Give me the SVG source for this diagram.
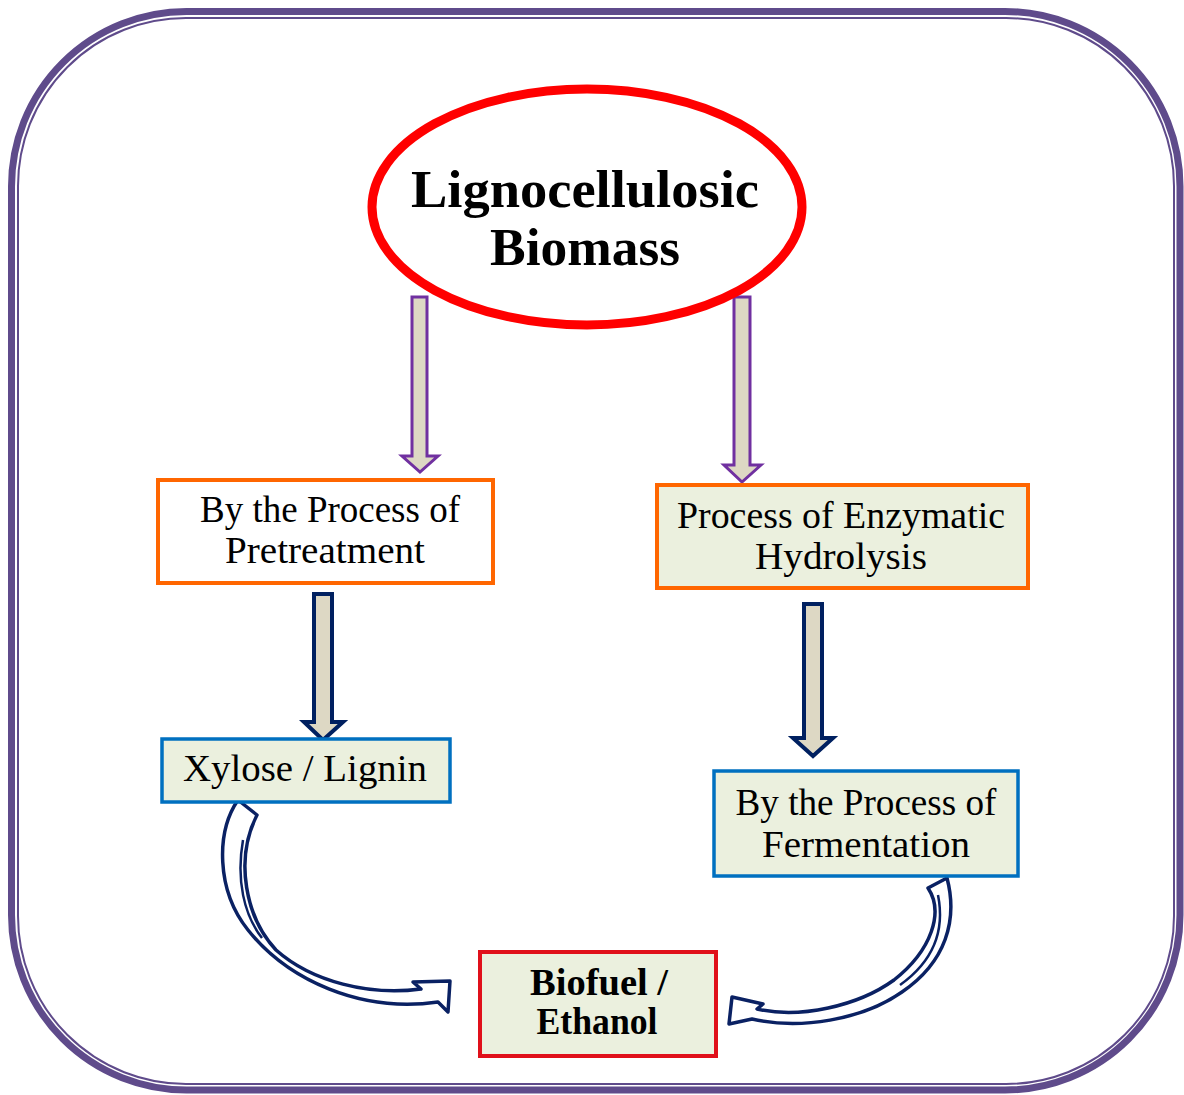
<svg xmlns="http://www.w3.org/2000/svg" width="1184" height="1095" viewBox="0 0 1184 1095">
  <style>
    .frame { fill: none; stroke: #5f4b8b; }
    .txt { font-family: "Liberation Serif", "Times New Roman", serif; fill: #000; text-anchor: middle; }
    .reg { font-size: 37px; }
    .bold { font-weight: bold; }
    .title { font-size: 52px; font-weight: bold; }
    .box-orange { stroke: #ff6600; stroke-width: 4; }
    .box-blue { stroke: #0070c0; stroke-width: 3.5; }
    .box-red { stroke: #e0101a; stroke-width: 4; }
    .fill-white { fill: #ffffff; }
    .fill-green { fill: #ebf0de; }
    .arrow-purple { fill: #ddd8c4; stroke: #7030a0; stroke-width: 3; stroke-linejoin: miter; }
    .arrow-navy { fill: #ddd8c4; stroke: #002060; stroke-width: 4; stroke-linejoin: miter; }
    .curve-navy { fill: #ffffff; stroke: #0a2163; stroke-width: 3.5; stroke-linejoin: round; }
  </style>

  <!-- outer double frame -->
  <rect class="frame" x="11.5" y="11.5" width="1168.5" height="1078.5" rx="175" ry="175" stroke-width="7"/>
  <rect class="frame" x="18" y="18" width="1156" height="1066" rx="168" ry="168" stroke-width="2"/>

  <!-- connectors -->
  <g id="connectors">
    <!-- biomass to pretreatment -->
    <path class="arrow-purple" d="M412,297 H427 V456 H438 L420,472 L402,456 H412 Z"/>
    <!-- biomass to enzymatic hydrolysis -->
    <path class="arrow-purple" d="M734,297 H750 V465 H761 L742,482 L724,465 H734 Z"/>
    <!-- pretreatment to xylose / lignin -->
    <path class="arrow-navy" d="M314,594 H332 V722 H343 L323,740 L304,722 H314 Z"/>
    <!-- enzymatic hydrolysis to fermentation -->
    <path class="arrow-navy" d="M804,604 H822 V738 H833 L813,756 L793,738 H804 Z"/>
    <!-- xylose / lignin to biofuel -->
    <path class="curve-navy" d="M238,800 C216,832 216,890 248,930 C288,980 360,1013 438,1002 L448,1012 L450,981 L413,982 L421,989 C370,996 312,982 276,950 C246,918 234,860 257,815 Z"/>
    <path fill="none" stroke="#0a2163" stroke-width="2.5" d="M243,840 C236,880 244,915 262,938"/>
    <!-- fermentation to biofuel -->
    <path class="curve-navy" d="M947,878 C958,920 946,962 902,992 C862,1020 800,1030 752,1019 L729,1024 L732,997 L763,1004 L757,1009 C800,1019 858,1006 894,980 C932,950 944,912 928,888 Z"/>
    <path fill="none" stroke="#0a2163" stroke-width="2.5" d="M938,895 C945,930 935,960 900,985"/>
  </g>

  <!-- source node -->
  <g id="node-biomass">
    <ellipse cx="587" cy="207" rx="215" ry="118" fill="#ffffff" stroke="#ff0000" stroke-width="9"/>
    <text class="txt title" x="585" y="207" textLength="348" lengthAdjust="spacingAndGlyphs">Lignocellulosic</text>
    <text class="txt title" x="585" y="265" textLength="190" lengthAdjust="spacingAndGlyphs">Biomass</text>
  </g>

  <g id="node-pretreatment">
    <rect class="box-orange fill-white" x="158" y="480" width="335" height="103"/>
    <text class="txt reg" x="330" y="522" textLength="260" lengthAdjust="spacingAndGlyphs">By the Process of</text>
    <text class="txt reg" x="325" y="563" textLength="200" lengthAdjust="spacingAndGlyphs">Pretreatment</text>
  </g>

  <g id="node-hydrolysis">
    <rect class="box-orange fill-green" x="657" y="485" width="371" height="103"/>
    <text class="txt reg" x="841" y="528" textLength="328" lengthAdjust="spacingAndGlyphs">Process of Enzymatic</text>
    <text class="txt reg" x="841" y="569" textLength="172" lengthAdjust="spacingAndGlyphs">Hydrolysis</text>
  </g>

  <g id="node-xylose">
    <rect class="box-blue fill-green" x="162" y="739" width="288" height="63"/>
    <text class="txt reg" x="305" y="781" textLength="244" lengthAdjust="spacingAndGlyphs">Xylose / Lignin</text>
  </g>

  <g id="node-fermentation">
    <rect class="box-blue fill-green" x="714" y="771" width="304" height="105"/>
    <text class="txt reg" x="866" y="815" textLength="261" lengthAdjust="spacingAndGlyphs">By the Process of</text>
    <text class="txt reg" x="866" y="857" textLength="208" lengthAdjust="spacingAndGlyphs">Fermentation</text>
  </g>

  <g id="node-biofuel">
    <rect class="box-red fill-green" x="480" y="952" width="236" height="104"/>
    <text class="txt reg bold" x="599" y="995" textLength="138" lengthAdjust="spacingAndGlyphs">Biofuel /</text>
    <text class="txt reg bold" x="597" y="1034" textLength="121" lengthAdjust="spacingAndGlyphs">Ethanol</text>
  </g>
</svg>
